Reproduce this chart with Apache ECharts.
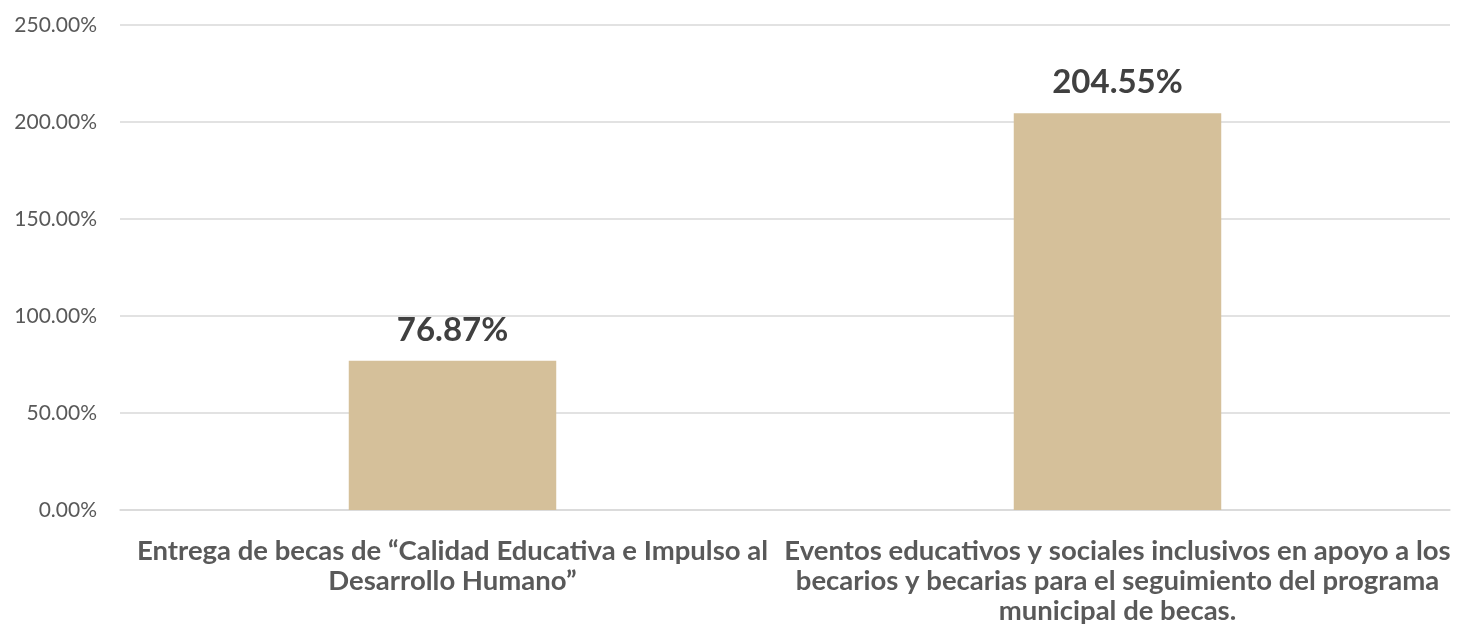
<!DOCTYPE html>
<html>
<head>
<meta charset="utf-8">
<script src="https://cdn.jsdelivr.net/npm/echarts@6/dist/echarts.min.js"></script>
<style>html,body{margin:0;padding:0;background:#fff;}#c{width:1458px;height:632px;}</style>
</head>
<body>
<div id="c"></div>
<script>
const categories = [
  'Entrega de becas de “Calidad Educativa e Impulso al\nDesarrollo Humano”',
  'Eventos educativos y sociales inclusivos en apoyo a los\nbecarios y becarias para el seguimiento del programa\nmunicipal de becas.'
];
const values = [76.87, 204.55];
const yMin = 0, yMax = 250, yStep = 50;

const chart = echarts.init(document.getElementById('c'));
chart.setOption({
  animation: false,
  textStyle: { fontFamily: 'Lato, "Open Sans", sans-serif' },
  grid: { left: 120, right: 8, top: 25, bottom: 122, containLabel: false },
  xAxis: {
    type: 'category',
    data: categories,
    axisLine: { show: true, lineStyle: { color: '#d9d9d9', width: 1.5 } },
    axisTick: { show: false },
    axisLabel: {
      interval: 0,
      margin: 26,
      color: '#595959',
      fontWeight: 'bold',
      fontSize: 27.5,
      lineHeight: 30,
      fontFamily: 'Lato, "Open Sans", sans-serif'
    }
  },
  yAxis: {
    type: 'value',
    min: yMin, max: yMax, interval: yStep,
    axisLine: { show: false },
    axisTick: { show: false },
    splitLine: { lineStyle: { color: '#d9d9d9', width: 1.5 } },
    axisLabel: {
      margin: 23,
      color: '#595959',
      fontSize: 21,
      fontFamily: 'Lato, "Open Sans", sans-serif',
      formatter: v => v.toFixed(2) + '%'
    }
  },
  series: [{
    type: 'bar',
    data: values,
    barWidth: '31.2%',
    itemStyle: { color: '#d5c09a' },
    label: {
      show: true,
      position: 'top',
      distance: 14,
      color: '#404040',
      fontWeight: 'bold',
      fontSize: 33,
      fontFamily: 'Lato, "Open Sans", sans-serif',
      formatter: p => p.value.toFixed(2) + '%'
    }
  }]
});
</script>
</body>
</html>
